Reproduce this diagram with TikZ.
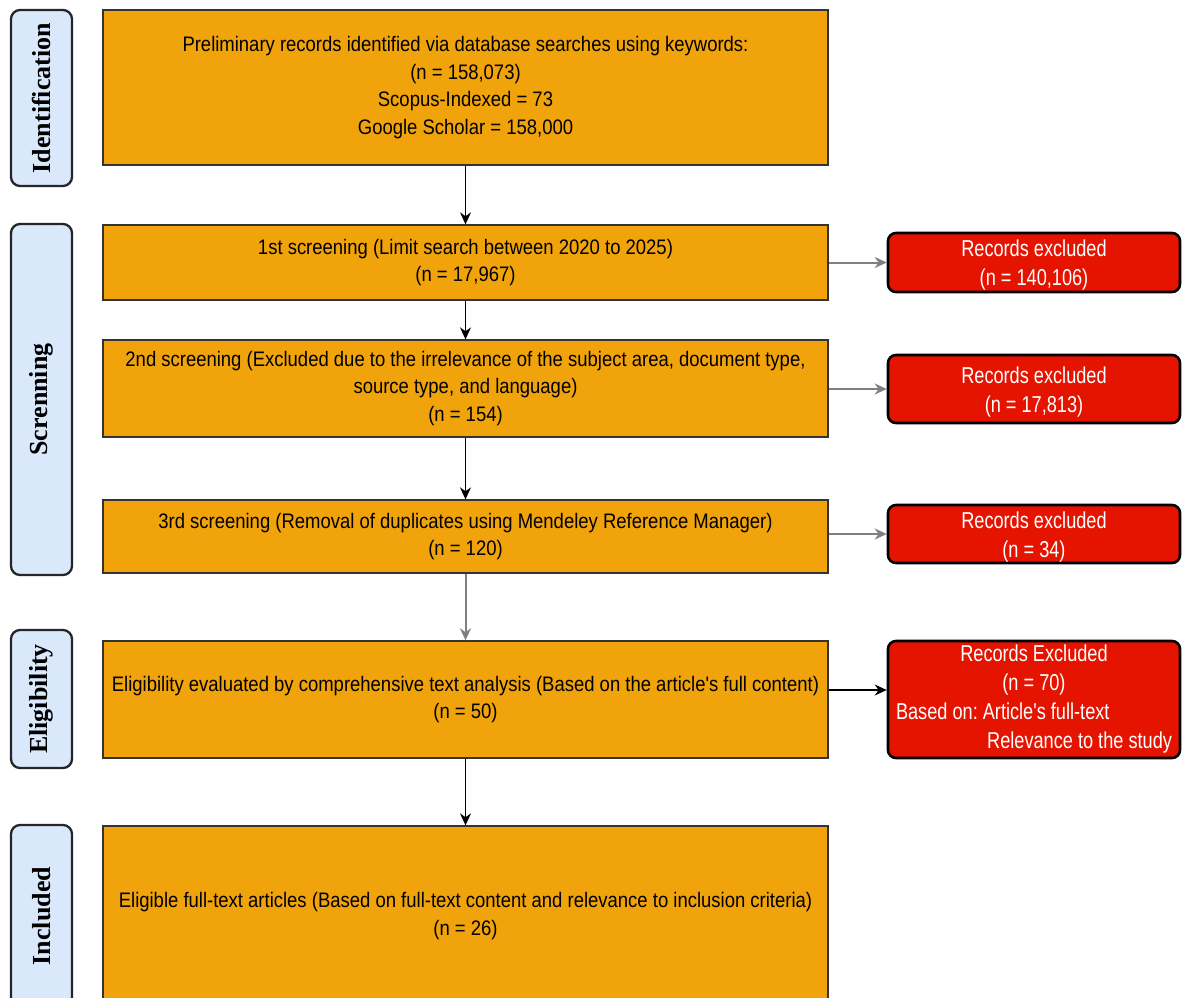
\documentclass[tikz,border=0pt]{standalone}
\usepackage{fontspec}
\setmainfont{Liberation Sans}
\newfontfamily\boxfont{Liberation Sans}[FakeStretch=0.88]
\newfontfamily\redfont{Liberation Sans}[FakeStretch=0.79]
\newfontfamily\sidefont{Liberation Serif}
\usetikzlibrary{arrows.meta}
\frenchspacing
\definecolor{orangefill}{HTML}{F0A30A}
\definecolor{redfill}{HTML}{E51400}
\definecolor{bluefill}{HTML}{DAE8FC}
\definecolor{arrgray}{HTML}{808080}
\tikzset{
  mainbox/.style={draw=black!80, line width=1.3pt, fill=orangefill, minimum width=725pt,
    align=center, inner sep=0pt, font=\boxfont\fontsize{21}{27.5}\selectfont},
  redbox/.style={draw=black, line width=2.6pt, rounded corners=8pt, fill=redfill, text=white,
    minimum width=292pt, align=center, inner sep=0pt, font=\redfont\fontsize{23}{29}\selectfont},
  sidebox/.style={draw=black!85, line width=2.3pt, rounded corners=9pt, fill=bluefill,
    minimum height=61pt, rotate=90, inner sep=0pt, font=\sidefont\bfseries\fontsize{26}{28}\selectfont},
  arr/.style={-{Stealth[length=12pt,width=11pt]}, line width=1.3pt, draw=black},
  garr/.style={arr, draw=arrgray, line width=2pt, -{Stealth[length=12pt,width=11pt,fill=black]}}
}
\begin{document}
\begin{tikzpicture}[x=1pt,y=-1pt]
\useasboundingbox (0,0) rectangle (1184,997);
\clip (0,0) rectangle (1184,997);
\fill[white] (0,0) rectangle (1184,997);
% side labels
\node[sidebox, minimum width=176pt] (sid) at (41.5,98) {Identification};
\node[sidebox, minimum width=351pt] (sscr) at (41.5,399.5) {Screnning};
\node[sidebox, minimum width=138pt] (selg) at (41.5,699) {Eligibility};
\node[sidebox, minimum width=182pt] (sinc) at (41.5,916) {Included};
% main boxes
\node[mainbox, minimum height=155pt] (b1) at (465.5,87.5)
  {Preliminary records identified via database searches using keywords:\\(n = 158,073)\\Scopus-Indexed = 73\\Google Scholar = 158,000};
\node[mainbox, minimum height=75pt] (b2) at (465.5,262.5)
  {1st screening (Limit search between 2020 to 2025)\\(n = 17,967)};
\node[mainbox, minimum height=97pt] (b3) at (465.5,388.5)
  {2nd screening (Excluded due to the irrelevance of the subject area, document type,\\source type, and language)\\(n = 154)};
\node[mainbox, minimum height=73pt] (b4) at (465.5,536.5)
  {3rd screening (Removal of duplicates using Mendeley Reference Manager)\\(n = 120)};
\node[mainbox, minimum height=117pt] (b5) at (465.5,699.5)
  {Eligibility evaluated by comprehensive text analysis (Based on the article's full content)\\(n = 50)};
\node[mainbox, minimum height=180pt] (b6) at (465.5,916)
  {Eligible full-text articles (Based on full-text content and relevance to inclusion criteria)\\(n = 26)};
% red boxes
\node[redbox, minimum height=59pt] (r1) at (1034,262.5) {\rule{0pt}{22pt}Records excluded\\(n = 140,106)};
\node[redbox, minimum height=68pt] (r2) at (1034,389) {\rule{0pt}{22pt}Records excluded\\(n = 17,813)};
\node[redbox, minimum height=58pt] (r3) at (1034,534) {\rule{0pt}{22pt}Records excluded\\(n = 34)};
\node[redbox, minimum height=117pt] (r4) at (1034,699.5)
  {Records Excluded\\(n = 70)\\\makebox[276pt][l]{Based on: Article's full-text}\\\makebox[276pt][r]{Relevance to the study}};
% vertical arrows
\draw[arr] (b1.south) -- (b2.north);
\draw[arr] (b2.south) -- (b3.north);
\draw[arr] (b3.south) -- (b4.north);
\draw[garr] (b4.south) -- (b5.north);
\draw[arr] (b5.south) -- (b6.north);
% horizontal arrows
\draw[garr] (b2.east |- r1.west) -- (r1.west);
\draw[garr] (b3.east |- r2.west) -- (r2.west);
\draw[garr] (b4.east |- r3.west) -- (r3.west);
\draw[arr] ([yshift=9.5pt]b5.east) -- ([yshift=9.5pt]r4.west);
\end{tikzpicture}
\end{document}
